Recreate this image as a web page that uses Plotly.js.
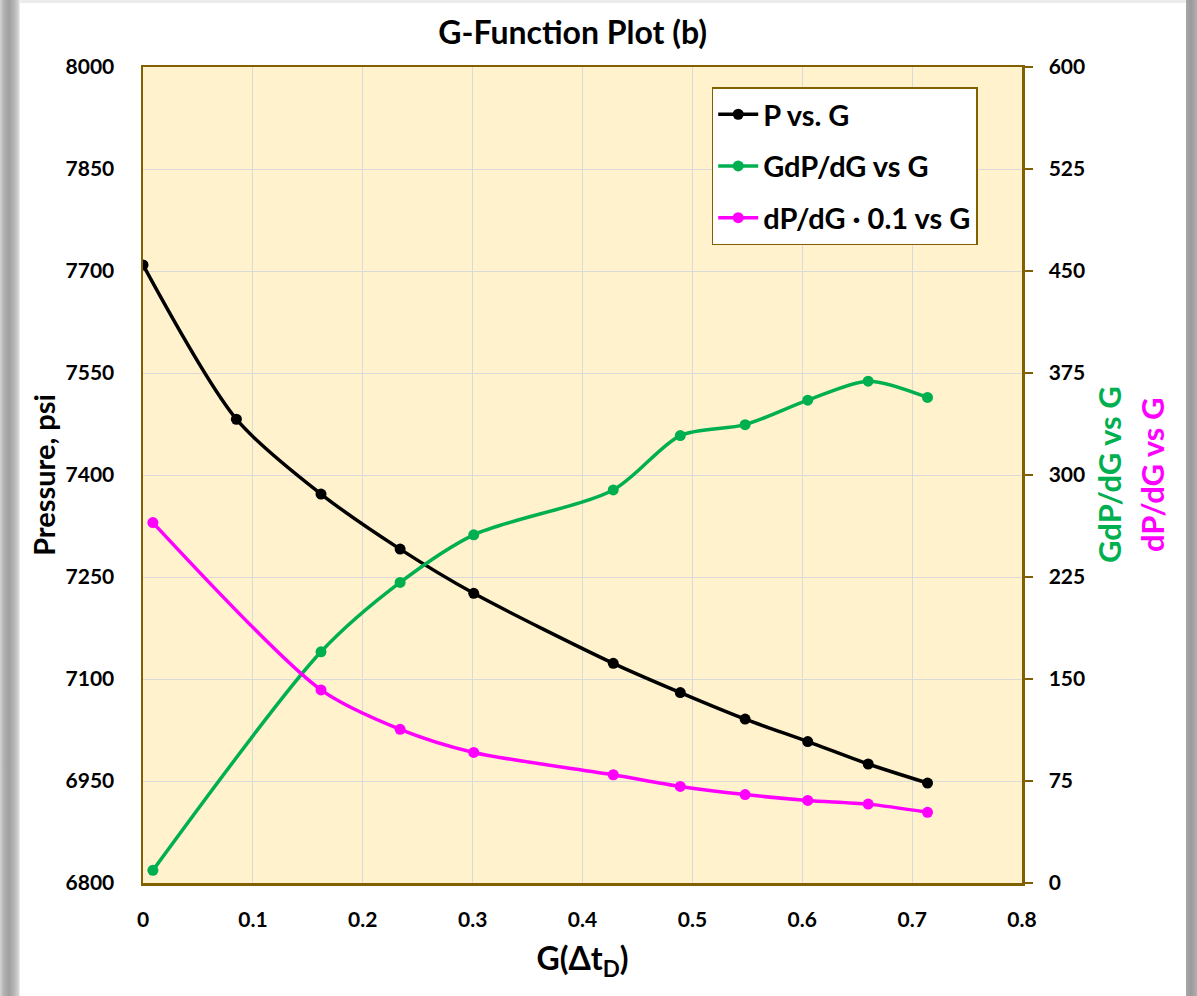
<!DOCTYPE html>
<html>
<head>
<meta charset="utf-8">
<script src="https://cdn.plot.ly/plotly-3.0.1.min.js"></script>
<style>
  html, body { margin: 0; padding: 0; width: 1197px; height: 996px; overflow: hidden; background: #ffffff; }
  #topbar { position: absolute; left: 0; top: 0; width: 1197px; height: 3px; background: #ececec; }
  #leftbar { position: absolute; left: 0; top: 0; width: 20px; height: 996px;
    background: linear-gradient(to right, #d4d4d4 0px, #b0b0b0 4px, #a0a0a0 9px, #b4b4b4 14px, #d8d8d8 19px, #ffffff 20px); }
  #rightbar { position: absolute; left: 1186px; top: 0; width: 11px; height: 996px;
    background: linear-gradient(to right, #a8a8a8 0px, #9a9a9a 5px, #b0b0b0 11px); }
  #chart { position: absolute; left: 20px; top: 3px; width: 1166px; height: 993px; }
</style>
</head>
<body>
<div id="topbar"></div>
<div id="leftbar"></div>
<div id="rightbar"></div>
<div id="chart"></div>
<script>
// ---- Data ----
const pG = [0, 0.085, 0.162, 0.234, 0.301, 0.428, 0.489, 0.548, 0.605, 0.660, 0.714];
const pressure = [7709, 7482, 7372, 7291, 7226, 7123, 7080, 7041, 7008, 6975, 6947];

const dG = [0.009, 0.162, 0.234, 0.301, 0.428, 0.489, 0.548, 0.605, 0.660, 0.714];
const gdpdg = [9.3, 170, 221, 256, 289, 329, 337, 355, 369, 357];
const dpdg01 = [265, 142, 113, 96, 79.6, 71, 65, 60.7, 58, 52];

const xTickVals = [0, 0.1, 0.2, 0.3, 0.4, 0.5, 0.6, 0.7, 0.8];
const xTickText = ['0', '0.1', '0.2', '0.3', '0.4', '0.5', '0.6', '0.7', '0.8'];
const yTickVals = [6800, 6950, 7100, 7250, 7400, 7550, 7700, 7850, 8000];
const y2TickVals = [0, 75, 150, 225, 300, 375, 450, 525, 600];

const seriesNames = ['P vs. G', 'GdP/dG vs G', 'dP/dG \u00b7 0.1 vs G'];
const seriesColors = ['#000000', '#00B050', '#FF00FF'];

// ---- Styling ----
const FONT = 'Lato, "Open Sans", "DejaVu Sans", sans-serif';
const AXIS = '#806000';

function trace(x, y, i, yaxis) {
  return {
    x: x, y: y, name: seriesNames[i], yaxis: yaxis, legendgroup: 'g' + i,
    type: 'scatter', mode: 'lines+markers',
    line: { color: seriesColors[i], width: 3.5, shape: 'spline', smoothing: 0.8 },
    marker: { color: seriesColors[i], size: 11 }
  };
}

const data = [
  trace(pG, pressure, 0, 'y'),
  trace(dG, gdpdg, 1, 'y2'),
  trace(dG, dpdg01, 2, 'y2')
];

const layout = {
  width: 1166, height: 993,
  margin: { l: 123, r: 164, t: 64, b: 113 },
  paper_bgcolor: '#ffffff',
  plot_bgcolor: '#FFF2CC',
  font: { family: FONT, color: '#000000', size: 20, weight: 700 },
  title: {
    text: 'G-Function Plot (b)',
    font: { family: FONT, size: 32, weight: 700, color: '#000000' },
    x: 0.474, xanchor: 'center', xref: 'container',
    y: 0.970, yanchor: 'middle', yref: 'container'
  },
  xaxis: {
    range: [0, 0.8], tickvals: xTickVals, ticktext: xTickText,
    showgrid: true, gridcolor: '#D9D9D9', gridwidth: 1,
    showline: true, linecolor: AXIS, linewidth: 2.5, mirror: true,
    ticks: '', zeroline: false,
    tickfont: { family: FONT, size: 21, weight: 700, color: '#000000' },
    ticklabelstandoff: 16,
    title: { text: 'G(\u0394t<sub>D</sub>)', font: { family: FONT, size: 32, weight: 700, color: '#000000' }, standoff: 18 }
  },
  yaxis: {
    range: [6800, 8000], tickvals: yTickVals,
    showgrid: true, gridcolor: '#D9D9D9', gridwidth: 1,
    showline: true, linecolor: AXIS, linewidth: 2.5, mirror: true,
    ticks: '', zeroline: false,
    tickfont: { family: FONT, size: 21, weight: 700, color: '#000000' },
    ticklabelstandoff: 22,
    title: { text: 'Pressure, psi', font: { family: FONT, size: 29, weight: 700, color: '#000000' }, standoff: 2 }
  },
  yaxis2: {
    range: [0, 600], tickvals: y2TickVals,
    overlaying: 'y', side: 'right',
    showgrid: false, zeroline: false,
    showline: true, linecolor: AXIS, linewidth: 2.5,
    ticks: 'outside', ticklen: 8, tickwidth: 2.5, tickcolor: AXIS,
    tickfont: { family: FONT, size: 21, weight: 700, color: '#000000' },
    ticklabelstandoff: 12
  },
  showlegend: true,
  legend: {
    x: 0.647, xanchor: 'left', y: 0.975, yanchor: 'top',
    bgcolor: '#ffffff', bordercolor: AXIS, borderwidth: 1.5,
    font: { family: FONT, size: 29, weight: 700, color: '#000000' },
    tracegroupgap: 11, itemwidth: 40,
    traceorder: 'grouped'
  },
  annotations: [
    { xref: 'paper', yref: 'paper', x: 1, y: 0.5, xanchor: 'center', yanchor: 'middle',
      xshift: 87, textangle: -90, showarrow: false,
      text: 'GdP/dG vs G', font: { family: FONT, size: 31, weight: 700, color: '#00B050' } },
    { xref: 'paper', yref: 'paper', x: 1, y: 0.5, xanchor: 'center', yanchor: 'middle',
      xshift: 130, textangle: -90, showarrow: false,
      text: 'dP/dG vs G', font: { family: FONT, size: 31, weight: 700, color: '#FF00FF' } }
  ]
};

Plotly.newPlot('chart', data, layout, { displayModeBar: false, staticPlot: true });
</script>
</body>
</html>
